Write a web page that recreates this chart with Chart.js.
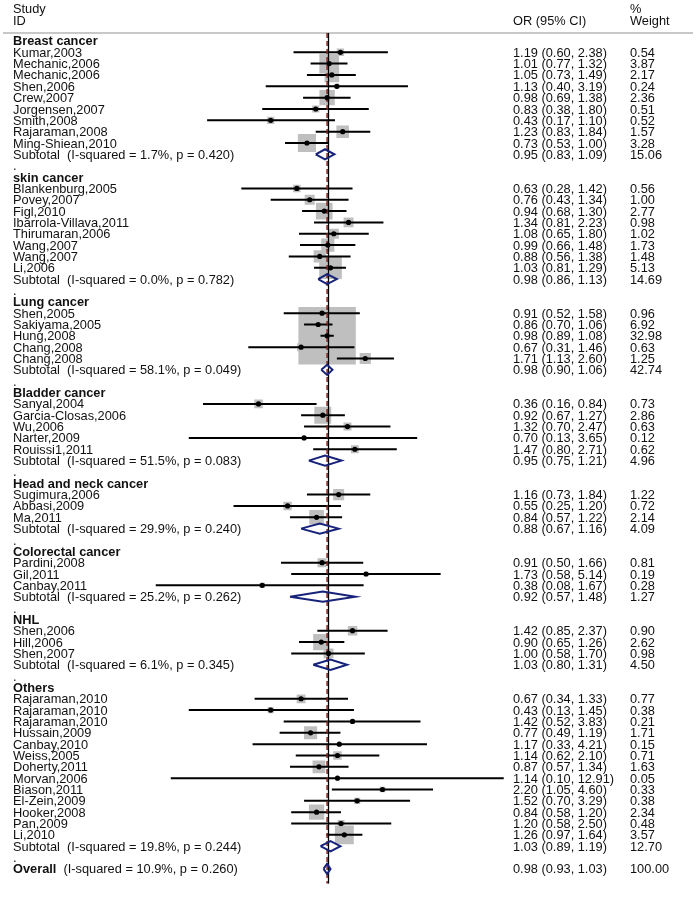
<!DOCTYPE html>
<html><head><meta charset="utf-8">
<script src="https://cdn.jsdelivr.net/npm/chart.js@4.4.1/dist/chart.umd.min.js"></script>
<style>html,body{margin:0;padding:0;background:#fff;}</style>
</head><body>
<canvas id="c" width="697" height="897"></canvas>
<script>
// ---------------- DATA ----------------
const groupNames = ["Breast cancer","skin cancer","Lung cancer","Bladder cancer","Head and neck cancer","Colorectal cancer","NHL","Others"];
const groupSizes = [9,8,5,5,3,3,3,13];
const studyNames = [
 "Kumar,2003","Mechanic,2006","Mechanic,2006","Shen,2006","Crew,2007","Jorgensen,2007","Smith,2008","Rajaraman,2008","Ming-Shiean,2010",
 "Blankenburg,2005","Povey,2007","Figl,2010","Ibarrola-Villava,2011","Thirumaran,2006","Wang,2007","Wang,2007","Li,2006",
 "Shen,2005","Sakiyama,2005","Hung,2008","Chang,2008","Chang,2008",
 "Sanyal,2004","Garcia-Closas,2006","Wu,2006","Narter,2009","Rouissi1,2011",
 "Sugimura,2006","Abbasi,2009","Ma,2011",
 "Pardini,2008","Gil,2011","Canbay,2011",
 "Shen,2006","Hill,2006","Shen,2007",
 "Rajaraman,2010","Rajaraman,2010","Rajaraman,2010","Hussain,2009","Canbay,2010","Weiss,2005","Doherty,2011","Morvan,2006","Biason,2011","El-Zein,2009","Hooker,2008","Pan,2009","Li,2010"
];
const studyOR = [1.19,1.01,1.05,1.13,0.98,0.83,0.43,1.23,0.73,
 0.63,0.76,0.94,1.34,1.08,0.99,0.88,1.03,
 0.91,0.86,0.98,0.67,1.71,
 0.36,0.92,1.32,0.70,1.47,
 1.16,0.55,0.84,
 0.91,1.73,0.38,
 1.42,0.90,1.00,
 0.67,0.43,1.42,0.77,1.17,1.14,0.87,1.14,2.20,1.52,0.84,1.20,1.26];
const studyLo = [0.60,0.77,0.73,0.40,0.69,0.38,0.17,0.83,0.53,
 0.28,0.43,0.68,0.81,0.65,0.66,0.56,0.81,
 0.52,0.70,0.89,0.31,1.13,
 0.16,0.67,0.70,0.13,0.80,
 0.73,0.25,0.57,
 0.50,0.58,0.08,
 0.85,0.65,0.58,
 0.34,0.13,0.52,0.49,0.33,0.62,0.57,0.10,1.05,0.70,0.58,0.58,0.97];
const studyHi = [2.38,1.32,1.49,3.19,1.38,1.80,1.10,1.84,1.00,
 1.42,1.34,1.30,2.23,1.80,1.48,1.38,1.29,
 1.58,1.06,1.08,1.46,2.60,
 0.84,1.27,2.47,3.65,2.71,
 1.84,1.20,1.22,
 1.66,5.14,1.67,
 2.37,1.26,1.70,
 1.33,1.45,3.83,1.19,4.21,2.10,1.34,12.91,4.60,3.29,1.20,2.50,1.64];
const studyWeight = [0.54,3.87,2.17,0.24,2.36,0.51,0.52,1.57,3.28,
 0.56,1.00,2.77,0.98,1.02,1.73,1.48,5.13,
 0.96,6.92,32.98,0.63,1.25,
 0.73,2.86,0.63,0.12,0.62,
 1.22,0.72,2.14,
 0.81,0.19,0.28,
 0.90,2.62,0.98,
 0.77,0.38,0.21,1.71,0.15,0.71,1.63,0.05,0.33,0.38,2.34,0.48,3.57];
const subI2 = ["1.7","0.0","58.1","51.5","29.9","25.2","6.1","19.8"];
const subP = ["0.420","0.782","0.049","0.083","0.240","0.262","0.345","0.244"];
const subOR = [0.95,0.98,0.98,0.95,0.88,0.92,1.03,1.03];
const subLo = [0.83,0.86,0.90,0.75,0.67,0.57,0.80,0.89];
const subHi = [1.09,1.13,1.06,1.21,1.16,1.48,1.31,1.19];
const subWeight = [15.06,14.69,42.74,4.96,4.09,1.27,4.50,12.70];
const overallI2 = "10.9";
const overallP = "0.260";
const overallOR = 0.98;
const overallLo = 0.93;
const overallHi = 1.03;
const overallWeight = 100.00;
const nullValue = 1;

// ---------------- LAYOUT / STYLE ----------------
const W = 697, H = 897;
const XMIN = 0.08, XMAX = 15;
const X0 = 328.5, XK = 68.5;            // pixel of OR=1, pixels per ln unit
const YMIN = 0.3, YMAX = 75.3;
const padLeft = X0 + XK*Math.log(XMIN);
const padRight = W - (X0 + XK*Math.log(XMAX));
const BOXK = 10;                          // box side = BOXK*sqrt(weight)
const DH = 0.45;                          // diamond half height (rows)
const FONT = '"Liberation Sans", Arial, Helvetica, sans-serif';
const FS = 12.8;
const TXT_DY = 1;
const NAVY = '#17237a';

// ---------------- ROWS ----------------
const rows = [];
let r = 1, si = 0;
groupNames.forEach((g, gi) => {
  rows.push({row: r++, kind: 'head', g: gi});
  for (let k = 0; k < groupSizes[gi]; k++) rows.push({row: r++, kind: 'study', i: si++});
  rows.push({row: r++, kind: 'sub', g: gi});
  rows.push({row: r++, kind: 'blank'});
});
rows.push({row: r, kind: 'overall'});

const boxData = [], ciData = [], ptData = [], diaData = [];
const GAP = {x: null, y: null};
function addDiamond(lo, est, hi, row) {
  diaData.push({x: lo, y: row}, {x: est, y: row - DH}, {x: hi, y: row}, {x: est, y: row + DH}, {x: lo, y: row}, GAP);
}
rows.forEach(o => {
  if (o.kind === 'study') {
    const i = o.i;
    boxData.push({x: studyOR[i], y: o.row, w: studyWeight[i]});
    ciData.push({x: studyLo[i], y: o.row}, {x: studyHi[i], y: o.row}, GAP);
    ptData.push({x: studyOR[i], y: o.row});
  } else if (o.kind === 'sub') {
    addDiamond(subLo[o.g], subOR[o.g], subHi[o.g], o.row);
  } else if (o.kind === 'overall') {
    addDiamond(overallLo, overallOR, overallHi, o.row);
  }
});

const fmt = (v) => v.toFixed(2);
const orText = (e, l, h) => fmt(e) + ' (' + fmt(l) + ', ' + fmt(h) + ')';

const textPlugin = {
  id: 'forestText',
  beforeDraw(chart) {
    const ctx = chart.ctx;
    ctx.save();
    ctx.fillStyle = '#fff';
    ctx.fillRect(0, 0, W, H);
    ctx.strokeStyle = '#c8c8c8';
    ctx.lineWidth = 2;
    ctx.beginPath(); ctx.moveTo(3, 33); ctx.lineTo(693, 33); ctx.stroke();
    ctx.restore();
  },
  afterDraw(chart) {
    const ctx = chart.ctx, ys = chart.scales.y;
    ctx.save();
    ctx.fillStyle = '#111';
    ctx.textBaseline = 'middle';
    ctx.textAlign = 'left';
    const norm = FS + 'px ' + FONT, bold = 'bold ' + FS + 'px ' + FONT;
    const xL = 13, xOR = 513, xW = 630;
    ctx.font = norm;
    ctx.fillText('Study', xL, 9);
    ctx.fillText('ID', xL, 21);
    ctx.fillText('OR (95% CI)', xOR, 21);
    ctx.fillText('%', xW, 9);
    ctx.fillText('Weight', xW, 21);
    rows.forEach(o => {
      const py = ys.getPixelForValue(o.row) + TXT_DY;
      if (o.kind === 'head') {
        ctx.font = bold; ctx.fillText(groupNames[o.g], xL, py);
      } else if (o.kind === 'study') {
        ctx.font = norm;
        ctx.fillText(studyNames[o.i], xL, py);
        ctx.fillText(orText(studyOR[o.i], studyLo[o.i], studyHi[o.i]), xOR, py);
        ctx.fillText(fmt(studyWeight[o.i]), xW, py);
      } else if (o.kind === 'sub') {
        ctx.font = norm;
        ctx.fillText('Subtotal  (I-squared = ' + subI2[o.g] + '%, p = ' + subP[o.g] + ')', xL, py);
        ctx.fillText(orText(subOR[o.g], subLo[o.g], subHi[o.g]), xOR, py);
        ctx.fillText(fmt(subWeight[o.g]), xW, py);
      } else if (o.kind === 'blank') {
        ctx.font = norm; ctx.fillText('.', xL, py);
      } else if (o.kind === 'overall') {
        ctx.font = bold; ctx.fillText('Overall', xL, py);
        const wB = ctx.measureText('Overall').width;
        ctx.font = norm;
        ctx.fillText('  (I-squared = ' + overallI2 + '%, p = ' + overallP + ')', xL + wB, py);
        ctx.fillText(orText(overallOR, overallLo, overallHi), xOR, py);
        ctx.fillText(fmt(overallWeight), xW, py);
      }
    });
    ctx.restore();
  }
};

new Chart(document.getElementById('c'), {
  type: 'line',
  data: {
    datasets: [
      {label: 'boxes', data: boxData, showLine: false, order: 6,
       pointStyle: 'rect', backgroundColor: '#bfbfbf', borderColor: '#bfbfbf', pointBorderWidth: 0,
       pointRadius: c => c.raw ? BOXK*Math.sqrt(c.raw.w)/Math.SQRT2 : 0},
      {label: 'ci', data: ciData, order: 5, borderColor: '#000', borderWidth: 2, pointRadius: 0, spanGaps: false, fill: false},
      {label: 'null', data: [{x: nullValue, y: YMIN}, {x: nullValue, y: YMAX}], order: 4, borderColor: '#000', borderWidth: 1.3, pointRadius: 0},
      {label: 'overallLine', data: [{x: overallOR, y: YMIN}, {x: overallOR, y: YMAX}], order: 3, borderColor: '#8b1c1c', borderWidth: 1.5, borderDash: [5, 3], pointRadius: 0},
      {label: 'points', data: ptData, showLine: false, order: 2, pointStyle: 'circle', pointRadius: 2.6,
       backgroundColor: '#000', borderColor: '#000', pointBorderWidth: 0},
      {label: 'diamonds', data: diaData, order: 1, borderColor: NAVY, borderWidth: 2, pointRadius: 0, spanGaps: false, fill: false}
    ]
  },
  options: {
    responsive: false,
    animation: false,
    events: [],
    layout: {padding: {left: padLeft, right: padRight, top: 33, bottom: H - 888}},
    plugins: {legend: {display: false}, tooltip: {enabled: false}},
    scales: {
      x: {type: 'logarithmic', min: XMIN, max: XMAX, bounds: 'data', display: false},
      y: {type: 'linear', min: YMIN, max: YMAX, reverse: true, bounds: 'data', display: false}
    }
  },
  plugins: [textPlugin]
});
</script>
</body></html>
